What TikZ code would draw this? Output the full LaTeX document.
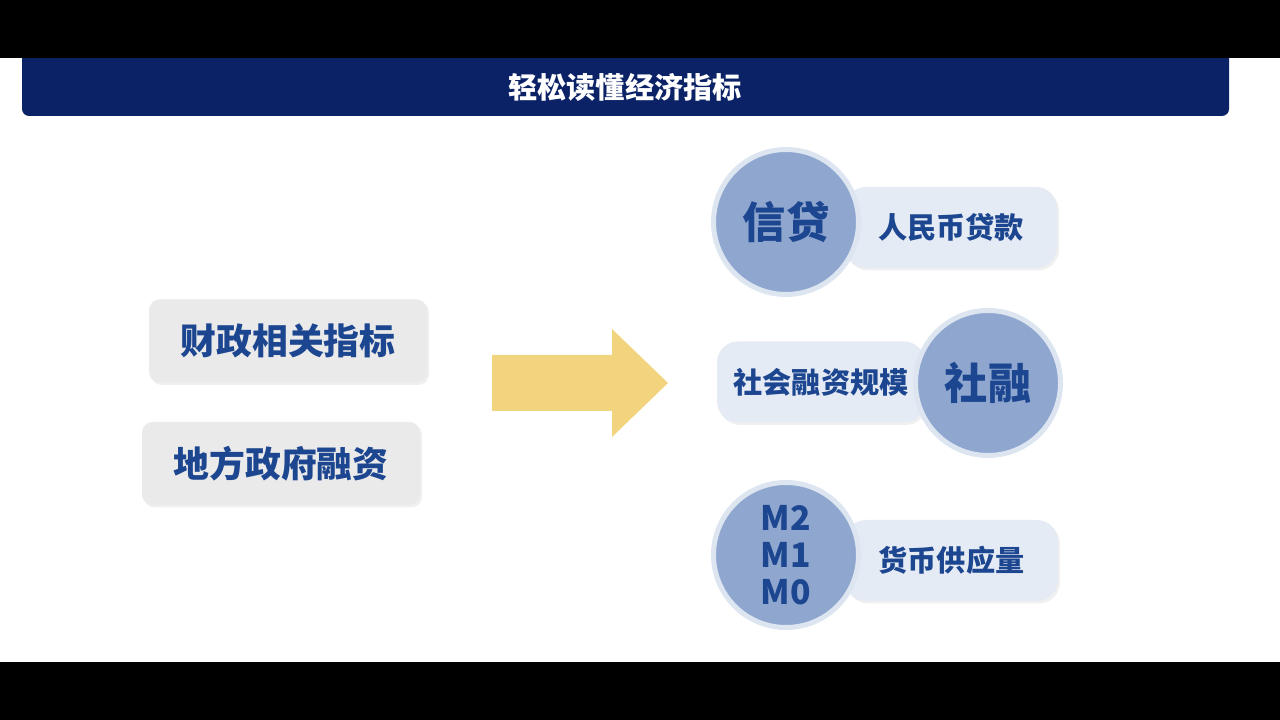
\documentclass[tikz,border=0pt]{standalone}
\usepackage{fontspec}
\setmainfont{Noto Sans CJK SC}
\usepackage{tikz}
\usetikzlibrary{positioning,shadows}

\definecolor{navy}{HTML}{0B2366}
\definecolor{ink}{HTML}{1D4690}
\definecolor{disc}{HTML}{8FA7CF}
\definecolor{halo}{HTML}{DDE5F1}
\definecolor{pale}{HTML}{E5EBF4}
\definecolor{grey}{HTML}{EAEAEA}
\definecolor{gold}{HTML}{F2D47F}

\begin{document}
\begin{tikzpicture}[
      every node/.style={font=\bfseries, text=ink, align=center},
      soft/.style={drop shadow={opacity=0.12, shadow xshift=0.02cm, shadow yshift=-0.025cm}},
      tag/.style={rectangle, fill=grey, rounded corners=3pt, inner sep=0pt, soft,
                  minimum width=2.78cm, minimum height=0.83cm, font=\fontsize{10.2}{12}\bfseries},
      note/.style={rectangle, fill=pale, rounded corners=6pt, inner sep=0pt, soft,
                   minimum height=0.81cm, font=\fontsize{8.3}{10}\bfseries},
      ball/.style={circle, fill=disc, draw=halo, line width=0.05cm, inner sep=0pt,
                   minimum size=1.45cm, font=\fontsize{12.3}{14}\bfseries},
    ]
    \useasboundingbox (0,0) rectangle (12.8,7.2);
    % Title band, its top hidden under the black letterbox bar.
    \fill[navy, rounded corners=2pt] (0.22,6.04) rectangle (12.29,6.8);
    \fill[black] (0,6.62) rectangle (12.8,7.2);
    \fill[black] (0,0) rectangle (12.8,0.58);
    \node[text=white, font=\fontsize{8.3}{10}\bfseries] (title) at (6.25,6.33) {轻松读懂经济指标};
    % Left: the two fiscal indicators.
    \node[tag] (fiscal) at (2.88,3.79) {财政相关指标};
    \node[tag] (local) at (2.81,2.565) {地方政府融资};
    % Big arrow pointing to the monetary side.
    \fill[gold] (4.92,3.09) -- (6.12,3.09) -- (6.12,2.83) -- (6.68,3.37)
      -- (6.12,3.91) -- (6.12,3.65) -- (4.92,3.65) -- cycle;
    % Right: boxes first, the discs overlap them.
    \node[note, minimum width=2.12cm] (loan) at (9.51,4.925) {人民币贷款};
    \node[ball] (credit) at (7.86,4.98) {信贷};
    \node[note, minimum width=2.08cm] (afre) at (8.21,3.38) {社会融资规模};
    \node[ball] (tsf) at (9.88,3.37) {社融};
    \node[note, minimum width=2.13cm] (supply) at (9.515,1.595) {货币供应量};
    \node[ball, font=\fontsize{9.6}{10.6}\bfseries] (money) at (7.86,1.65) {M2\\M1\\M0};
  \end{tikzpicture}
\end{document}
